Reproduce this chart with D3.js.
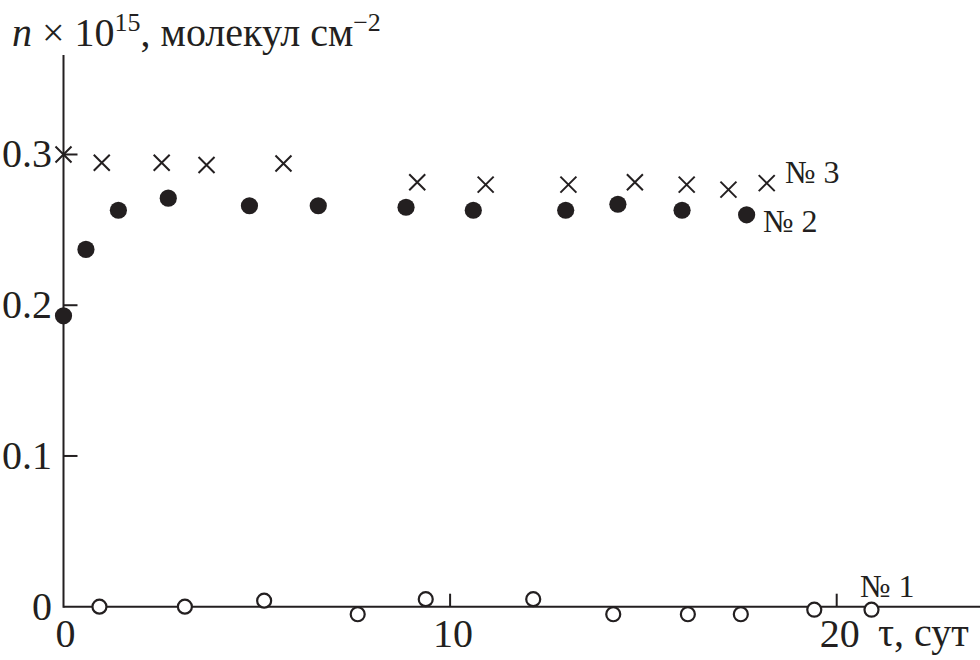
<!DOCTYPE html>
<html><head><meta charset="utf-8">
<script src="https://cdn.jsdelivr.net/npm/d3@7/dist/d3.min.js"></script>
<style>html,body{margin:0;padding:0;background:#fff;}svg{display:block;}</style>
</head><body><svg id="c" width="980" height="660"></svg>
<script>
// ---- data ----
const xTickValues = [0, 10, 20];
const xTickLabels = ["0", "10", "20"];
const yTickValues = [0, 0.1, 0.2, 0.3];
const yTickLabels = ["0", "0.1", "0.2", "0.3"];

// sample No 1 (open circles)
const tau1 = [0.93, 3.14, 5.19, 7.61, 9.37, 12.15, 14.22, 16.15, 17.52, 19.42, 20.9];
const n1   = [0.000, 0.000, 0.004, -0.005, 0.005, 0.005, -0.005, -0.005, -0.005, -0.002, -0.002];
// sample No 2 (filled circles)
const tau2 = [0, 0.58, 1.42, 2.71, 4.81, 6.59, 8.86, 10.6, 12.99, 14.34, 16.0, 17.67];
const n2   = [0.193, 0.237, 0.263, 0.271, 0.266, 0.266, 0.265, 0.263, 0.263, 0.267, 0.263, 0.260];
// sample No 3 (crosses)
const tau3 = [0, 0.99, 2.54, 3.70, 5.69, 9.15, 10.92, 13.06, 14.78, 16.12, 17.2, 18.19];
const n3   = [0.300, 0.2945, 0.2945, 0.293, 0.294, 0.2816, 0.280, 0.280, 0.2816, 0.280, 0.2767, 0.281];

const seriesNames = ["№ 1", "№ 2", "№ 3"];

// ---- layout ----
const ink = "#231f20";
const font = "'Liberation Serif','Times New Roman',serif";
const svg = d3.select("#c");
const x = d3.scaleLinear().domain([0, 20]).range([63.5, 836.7]);
const y = d3.scaleLinear().domain([0, 0.366]).range([606.7, 55]);

// axes lines
svg.append("line").attr("x1", x(0)).attr("x2", 980).attr("y1", y(0)).attr("y2", y(0))
  .attr("stroke", ink).attr("stroke-width", 2);
svg.append("line").attr("x1", x(0)).attr("x2", x(0)).attr("y1", y(0) + 1).attr("y2", y(0.366))
  .attr("stroke", ink).attr("stroke-width", 2);

// y ticks (inside, pointing right)
yTickValues.forEach((v, i) => {
  if (v !== 0) {
    svg.append("line").attr("x1", x(0)).attr("x2", x(0) + 14).attr("y1", y(v)).attr("y2", y(v))
      .attr("stroke", ink).attr("stroke-width", 2);
  }
  svg.append("text").attr("x", 52).attr("y", y(v) + 13).attr("text-anchor", "end")
    .attr("font-family", font).attr("font-size", 40).attr("fill", ink).text(yTickLabels[i]);
});
// x ticks (inside, pointing up)
xTickValues.forEach((v, i) => {
  if (v !== 0) {
    svg.append("line").attr("x1", x(v)).attr("x2", x(v)).attr("y1", y(0)).attr("y2", y(0) - 13)
      .attr("stroke", ink).attr("stroke-width", 2);
  }
  svg.append("text").attr("x", v === 0 ? x(v) + 2 : x(v) + 3).attr("y", 647).attr("text-anchor", "middle")
    .attr("font-family", font).attr("font-size", 40).attr("fill", ink).text(xTickLabels[i]);
});

// axis titles
svg.append("text").attr("x", 878).attr("y", 646).attr("font-family", font).attr("font-size", 40)
  .attr("fill", ink).text("τ, сут");

const t = svg.append("text").attr("x", 12).attr("y", 46).attr("font-family", font)
  .attr("font-size", 40).attr("fill", ink);
t.append("tspan").attr("font-style", "italic").text("n");
t.append("tspan").text(" × 10");
t.append("tspan").attr("font-size", 26).attr("dy", -15).text("15");
t.append("tspan").attr("dy", 15).text(", молекул см");
t.append("tspan").attr("font-size", 26).attr("dy", -15).text("−2");

// ---- marks ----
// series 1: open circles
svg.append("g").selectAll("circle").data(tau1.map((d, i) => [d, n1[i]])).join("circle")
  .attr("cx", d => x(d[0])).attr("cy", d => y(d[1])).attr("r", 7)
  .attr("fill", "#fff").attr("stroke", ink).attr("stroke-width", 2.2);
// series 2: filled circles
svg.append("g").selectAll("circle").data(tau2.map((d, i) => [d, n2[i]])).join("circle")
  .attr("cx", d => x(d[0])).attr("cy", d => y(d[1])).attr("r", 8.6)
  .attr("fill", ink);
// series 3: crosses
const cs = 8;
svg.append("g").selectAll("path").data(tau3.map((d, i) => [d, n3[i]])).join("path")
  .attr("d", d => {
    const cx = x(d[0]), cy = y(d[1]);
    return `M${cx - cs},${cy - cs}L${cx + cs},${cy + cs}M${cx - cs},${cy + cs}L${cx + cs},${cy - cs}`;
  })
  .attr("stroke", ink).attr("stroke-width", 2).attr("fill", "none");

// series labels
const lab = [[860, 597, 0], [763, 232, 1], [785, 183, 2]];
lab.forEach(l => {
  svg.append("text").attr("x", l[0]).attr("y", l[1]).attr("font-family", font)
    .attr("font-size", 32).attr("fill", ink).text(seriesNames[l[2]]);
});
</script></body></html>
